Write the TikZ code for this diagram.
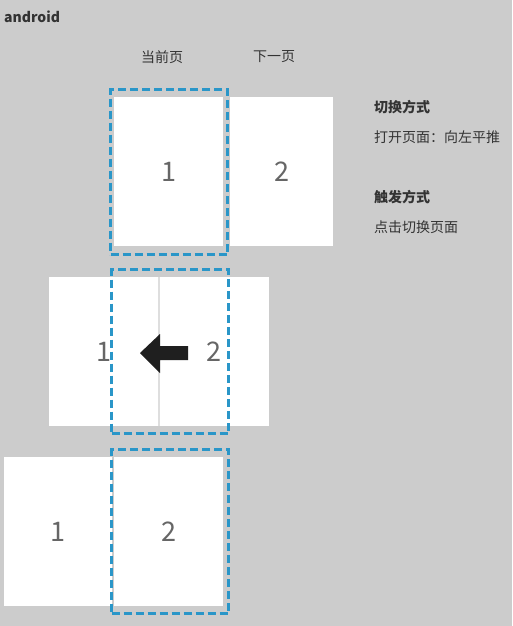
\documentclass[tikz,border=0pt]{standalone}
\usepackage{fontspec}
\setmainfont{Noto Sans CJK SC}
\usepackage[dvipsnames]{xcolor}
\usetikzlibrary{positioning}
\definecolor{bgGray}{HTML}{CCCCCC}
\definecolor{dashBlue}{HTML}{2A96C8}
\definecolor{numGray}{HTML}{666666}
\definecolor{txtGray}{HTML}{333333}

\begin{document}
\begin{tikzpicture}[x=1pt,y=-1pt,
  page/.style={fill=white,inner sep=0pt,minimum width=109pt,minimum height=149pt,font=\fontsize{27}{27}\selectfont,text=numGray},
  focus/.style={draw=dashBlue,line width=3pt,dash pattern=on 8pt off 4pt,inner sep=0pt,minimum width=117pt,minimum height=165pt},
  infotext/.style={font=\fontsize{14}{14}\selectfont,text=txtGray,inner sep=0pt},
  infohead/.style={infotext,font=\bfseries\fontsize{14}{14}\selectfont}]
  \fill[bgGray] (0,0) rectangle (512,626);
  \useasboundingbox (0,0) rectangle (512,626);

  % headings
  \node[infohead,anchor=west] (android) at (4,17) {android};
  \node[infotext] (current) at (162,57) {当前页};
  \node[infotext] (next) at (274,57) {下一页};

  % first state
  \node[page] (a1) at (168.5,171.5) {1};
  \node[page,minimum width=103pt] (a2) at (281.5,171.5) {2};
  \node[focus] (fa) at (169,172) {};

  % second state
  \node[page,minimum width=110pt] (b1) at (104,351.5) {1};
  \node[page,minimum width=110pt] (b2) [right=0pt of b1] {2};
  \draw[black!13,line width=1.5pt] (b1.north east) -- (b1.south east);
  \node[focus,minimum height=164pt] (fb) at (170,351.5) {};
  \coordinate (tip) at (140,353);
  \fill[black!88] (tip) -- ++(20,-19) -- ++(0,12) -- ++(28,0) -- ++(0,14) -- ++(-28,0) -- ++(0,13) -- cycle;

  % third state
  \node[page,minimum width=108pt] (c1) at (58,531.5) {1};
  \node[page] (c2) at (168.5,531.5) {2};
  \node[focus,minimum height=164pt] (fc) at (170,531.5) {};

  % notes
  \node[infohead,anchor=west] (mode) at (374,107) {切换方式};
  \node[infotext,anchor=west] (open) [below=16pt of mode.south west,anchor=north west] {打开页面：向左平推};
  \node[infohead,anchor=west] (trigger) at (374,197) {触发方式};
  \node[infotext,anchor=west] (click) at (374,227) {点击切换页面};
\end{tikzpicture}
\end{document}
